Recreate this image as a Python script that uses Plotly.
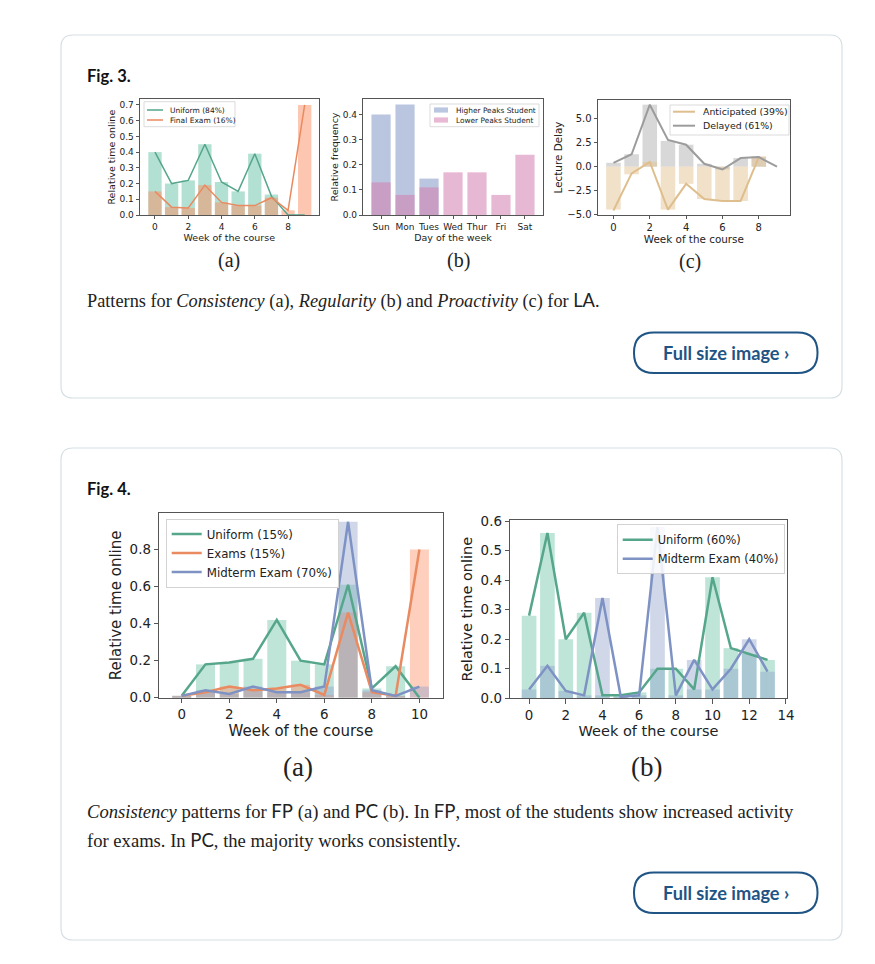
import plotly.graph_objects as go

# The page places the figure 8 px from the window's top-left corner (body margin),
# so all positions below are given in window pixels and shifted by OFF.
WIN_W, WIN_H = 875, 964
OFF = 8
W, H = WIN_W - OFF, WIN_H - OFF

# ---------------- data ----------------
# Fig. 3 (a) LA consistency
la_weeks = list(range(10))
la_uniform = [0.40, 0.20, 0.22, 0.45, 0.21, 0.15, 0.39, 0.12, 0.0, 0.0]
la_uniform_bars = [0.40, 0.20, 0.22, 0.45, 0.21, 0.15, 0.39, 0.13, 0.0, 0.0]
la_final = [0.15, 0.05, 0.045, 0.19, 0.08, 0.06, 0.06, 0.11, 0.03, 0.70]

# Fig. 3 (b) LA regularity
days = ["Sun", "Mon", "Tues", "Wed", "Thur", "Fri", "Sat"]
higher_peaks = [0.40, 0.44, 0.145, 0.0, 0.0, 0.0, 0.0]
lower_peaks = [0.13, 0.08, 0.11, 0.17, 0.17, 0.08, 0.24]

# Fig. 3 (c) LA proactivity
delay_weeks = list(range(10))
delayed = [0.4, 1.3, 6.5, 2.8, 2.3, 0.3, -0.3, 0.9, 1.0, 0.0]
delay_bar_weeks = list(range(9))
delayed_bars = [0.4, 1.3, 6.5, 2.7, 2.3, 0.3, -0.3, 0.9, 1.0]
anticipated = [-4.6, -0.7, 0.5, -4.5, -1.8, -3.4, -3.6, -3.6, 1.0]
anticipated_bars = [-4.5, -0.8, 0.5, -4.5, -1.8, -3.4, -3.6, -3.6, 1.1]

# Fig. 4 (a) FP consistency
fp_weeks = list(range(11))
fp_uniform = [0.01, 0.18, 0.19, 0.21, 0.42, 0.20, 0.18, 0.61, 0.05, 0.17, 0.0]
fp_exams = [0.01, 0.03, 0.06, 0.04, 0.05, 0.07, 0.015, 0.46, 0.03, 0.01, 0.80]
fp_midterm = [0.01, 0.04, 0.02, 0.06, 0.03, 0.03, 0.06, 0.95, 0.04, 0.01, 0.06]

# Fig. 4 (b) PC consistency
pc_weeks = list(range(14))
pc_uniform = [0.28, 0.56, 0.20, 0.29, 0.01, 0.01, 0.02, 0.10, 0.10, 0.03, 0.41, 0.17, 0.15, 0.13]
pc_midterm = [0.03, 0.11, 0.025, 0.01, 0.34, 0.005, 0.01, 0.58, 0.01, 0.13, 0.03, 0.10, 0.20, 0.09]

# labels
la_legend = ["Uniform (84%)", "Final Exam (16%)"]
reg_legend = ["Higher Peaks Student", "Lower Peaks Student"]
pro_legend = ["Anticipated (39%)", "Delayed (61%)"]
fp_legend = ["Uniform (15%)", "Exams (15%)", "Midterm Exam (70%)"]
pc_legend = ["Uniform (60%)", "Midterm Exam (40%)"]

# ---------------- style ----------------
GREEN, ORANGE, BLUE, PINK, TAN, GREY = "#66c2a5", "#fc8d62", "#8da0cb", "#d47fb0", "#e5c494", "#b3b3b3"
GREEN_L, ORANGE_L, BLUE_L, TAN_L, GREY_L = "#55a68a", "#ea8a60", "#7e92c4", "#dfbe8e", "#9c9c9c"
AXFONT = "DejaVu Sans"
SERIF = "Liberation Serif"
SANS = "Lato"
INK = "#222222"
FRAME = "#555555"

fig = go.Figure()


def bar(x, y, color, op, ax):
    fig.add_trace(go.Bar(x=x, y=y, width=0.8, marker=dict(color=color, line=dict(width=0)),
                         opacity=op, showlegend=False, hoverinfo="skip",
                         xaxis="x" + ax, yaxis="y" + ax))


def line(x, y, color, wdt, ax, name=None, legend=None):
    fig.add_trace(go.Scatter(x=x, y=y, mode="lines", line=dict(color=color, width=wdt),
                             name=name, showlegend=legend is not None,
                             legend=legend, xaxis="x" + ax, yaxis="y" + ax))


# Fig 3a
bar(la_weeks, la_uniform_bars, GREEN, 0.5, "")
bar(la_weeks, la_final, ORANGE, 0.5, "")
line(la_weeks, la_uniform, GREEN_L, 1.5, "")
line(la_weeks, la_final, ORANGE_L, 1.5, "")
# Fig 3b
bar(days, higher_peaks, BLUE, 0.6, "2")
bar(days, lower_peaks, PINK, 0.55, "2")
# Fig 3c
bar(delay_bar_weeks, delayed_bars, GREY, 0.5, "3")
bar(delay_bar_weeks, anticipated_bars, TAN, 0.5, "3")
line(delay_bar_weeks, anticipated, TAN_L, 2, "3")
line(delay_weeks, delayed, GREY_L, 2, "3")
# Fig 4a
bar(fp_weeks, fp_uniform, GREEN, 0.42, "4")
bar(fp_weeks, fp_exams, ORANGE, 0.42, "4")
bar(fp_weeks, fp_midterm, BLUE, 0.42, "4")
line(fp_weeks, fp_uniform, GREEN_L, 2.5, "4", fp_legend[0], "legend")
line(fp_weeks, fp_exams, ORANGE_L, 2.5, "4", fp_legend[1], "legend")
line(fp_weeks, fp_midterm, BLUE_L, 2.5, "4", fp_legend[2], "legend")
# Fig 4b
bar(pc_weeks, pc_uniform, GREEN, 0.42, "5")
bar(pc_weeks, pc_midterm, BLUE, 0.42, "5")
line(pc_weeks, pc_uniform, GREEN_L, 2.5, "5", pc_legend[0], "legend2")
line(pc_weeks, pc_midterm, BLUE_L, 2.5, "5", pc_legend[1], "legend2")
# page layer (window pixel coordinates)
fig.add_trace(go.Scatter(x=[], y=[], xaxis="x6", yaxis="y6", showlegend=False, hoverinfo="skip"))


def fx(p):
    return (p - OFF) / W


def fy(p):
    return 1 - (p - OFF) / H


# panel boxes in window pixels: left, top, right, bottom
panels = {
    "": (140, 99.3, 318.5, 215),
    "2": (363.3, 99, 542.7, 215),
    "3": (598, 100, 789.7, 215),
    "4": (159, 513, 442.7, 697.7),
    "5": (510, 520, 787, 698.3),
}


def axes(key, xr, yr, xtitle, ytitle, tfont, lfont, tlen, xstand, ystand,
         xtickvals=None, ytickvals=None, yticktext=None, yfmt=".1f"):
    l, t, r, b = panels[key]
    common = dict(showline=True, mirror=True, linecolor=FRAME, linewidth=0.8,
                  ticks="outside", ticklen=tlen, tickwidth=0.8, tickcolor=FRAME,
                  showgrid=False, zeroline=False, automargin=False,
                  tickfont=dict(family=AXFONT, size=tfont, color=INK))
    xa = dict(common, domain=[fx(l), fx(r)], range=xr, anchor="y" + key,
              title=dict(text=xtitle, font=dict(family=AXFONT, size=lfont, color=INK), standoff=xstand))
    if xtickvals is not None:
        xa["tickvals"] = xtickvals
    ya = dict(common, domain=[fy(b), fy(t)], range=yr, anchor="x" + key,
              tickvals=ytickvals, tickformat=yfmt,
              title=dict(text=ytitle, font=dict(family=AXFONT, size=lfont, color=INK), standoff=ystand))
    if yticktext is not None:
        ya["ticktext"] = yticktext
    fig.update_layout({"xaxis" + key: xa, "yaxis" + key: ya})


axes("", [-0.9, 9.83], [0, 0.736], "Week of the course", "Relative time online", 9, 9.5, 3.5, 1, 2,
     [0, 2, 4, 6, 8], [0, 0.1, 0.2, 0.3, 0.4, 0.5, 0.6, 0.7])
axes("2", [-0.74, 6.74], [0, 0.462], "Day of the week", "Relative frequency", 9, 9.5, 3.5, 1, 2,
     None, [0, 0.1, 0.2, 0.3, 0.4])
axes("3", [-0.85, 9.7], [-5.07, 6.99], "Week of the course", "Lecture Delay", 10, 10.4, 3.5, 1, 2,
     [0, 2, 4, 6, 8], [-5, -2.5, 0, 2.5, 5], ["\u22125.0", "\u22122.5", "0.0", "2.5", "5.0"])
axes("4", [-0.955, 10.98], [0, 0.9975], "Week of the course", "Relative time online", 13.4, 15, 4.5, 3, 4,
     [0, 2, 4, 6, 8, 10], [0, 0.2, 0.4, 0.6, 0.8])
axes("5", [-1.04, 14.06], [0, 0.604], "Week of the course", "Relative time online", 13.4, 14.5, 4.5, 3, 4,
     [0, 2, 4, 6, 8, 10, 12, 14], [0, 0.1, 0.2, 0.3, 0.4, 0.5, 0.6])

fig.update_layout(
    xaxis6=dict(domain=[0, 1], range=[OFF, WIN_W], visible=False, anchor="y6", fixedrange=True,
                automargin=False),
    yaxis6=dict(domain=[0, 1], range=[WIN_H, OFF], visible=False, anchor="x6", fixedrange=True,
                automargin=False),
)

shapes = []
annotations = []


def px_text(x, y, text, size, family, color=INK, xanchor="left"):
    annotations.append(dict(x=x, y=y, xref="x6", yref="y6", text=text, showarrow=False,
                            xanchor=xanchor, yanchor="middle",
                            font=dict(size=size, family=family, color=color)))


def rrect(x0, y0, x1, y1, r):
    return (f"M{x0 + r},{y0} L{x1 - r},{y0} Q{x1},{y0} {x1},{y0 + r} L{x1},{y1 - r} "
            f"Q{x1},{y1} {x1 - r},{y1} L{x0 + r},{y1} Q{x0},{y1} {x0},{y1 - r} "
            f"L{x0},{y0 + r} Q{x0},{y0} {x0 + r},{y0} Z")


# cards
for (x0, y0, x1, y1) in [(61, 35, 842, 398), (61, 448, 842, 940)]:
    shapes.append(dict(type="path", xref="x6", yref="y6", path=rrect(x0, y0, x1, y1, 12),
                       line=dict(color="#d6dfe4", width=1.2), layer="above"))
# buttons
for (x0, y0, x1, y1) in [(634, 332.5, 817.5, 373), (634, 872.5, 817.5, 913)]:
    shapes.append(dict(type="path", xref="x6", yref="y6", path=rrect(x0, y0, x1, y1, 20),
                       line=dict(color="#1f5484", width=2), layer="above"))
    px_text((x0 + x1) / 2, (y0 + y1) / 2, "<b>Full size image \u203a</b>", 18.2, SANS, "#1f5484", "center")


# small matplotlib-style legends for Fig. 3
def mini_legend(box, rows, sw_x, text_x, entries, colors, size, kind, lw=1.5):
    x0, y0, x1, y1 = box
    shapes.append(dict(type="rect", xref="x6", yref="y6", x0=x0, y0=y0, x1=x1, y1=y1,
                       line=dict(color="#d2d2d2", width=0.8), fillcolor="rgba(255,255,255,0.85)",
                       layer="above"))
    for yy, name, col in zip(rows, entries, colors):
        if kind == "line":
            shapes.append(dict(type="line", xref="x6", yref="y6", x0=sw_x[0], x1=sw_x[1], y0=yy, y1=yy,
                               line=dict(color=col, width=lw), layer="above"))
        else:
            shapes.append(dict(type="rect", xref="x6", yref="y6", x0=sw_x[0], x1=sw_x[1],
                               y0=yy - 2.6, y1=yy + 2.6, line=dict(width=0), fillcolor=col,
                               layer="above"))
        px_text(text_x, yy, name, size, AXFONT)


mini_legend((144, 101.7, 235, 126.7), [110, 120], (147, 163), 168, la_legend,
            [GREEN_L, ORANGE_L], 7.5, "line")
mini_legend((430, 104, 539, 126.7), [110, 120], (434, 448), 454, reg_legend,
            ["rgba(141,160,203,0.6)", "rgba(212,127,176,0.55)"], 7.4, "patch")
mini_legend((670, 105, 789, 135), [111.7, 125.7], (673, 695), 700.7, pro_legend,
            [TAN_L, GREY_L], 9.4, "line", 2)

# page texts
px_text(85, 75.5, "<b>Fig. 3.</b>", 16.5, SANS, "#111111")
px_text(85, 488.5, "<b>Fig. 4.</b>", 16.5, SANS, "#111111")
for x, y, t, s in [(229, 260, "(a)", 20), (458, 260, "(b)", 20), (690, 261, "(c)", 20),
                   (298, 767, "(a)", 27), (646, 767, "(b)", 27)]:
    px_text(x, y, t, s, SERIF, INK, "center")

sans_span = "<span style='font-family:Lato'>{}</span>"
px_text(85, 300, "Patterns for <i>Consistency</i> (a), <i>Regularity</i> (b) and <i>Proactivity</i> (c) for "
        + sans_span.format("LA") + ".", 18.3, SERIF)
px_text(85, 811, "<i>Consistency</i> patterns for " + sans_span.format("FP") + " (a) and "
        + sans_span.format("PC") + " (b). In " + sans_span.format("FP")
        + ", most of the students show increased activity", 18.6, SERIF)
px_text(85, 840, "for exams. In " + sans_span.format("PC") + ", the majority works consistently.", 18.6, SERIF)

legend_common = dict(xanchor="left", yanchor="top", bgcolor="rgba(255,255,255,0.85)",
                     bordercolor="#d2d2d2", borderwidth=1, tracegroupgap=0, itemwidth=30)
fig.update_layout(
    width=W, height=H, margin=dict(l=0, r=0, t=0, b=0, autoexpand=False),
    paper_bgcolor="white", plot_bgcolor="rgba(0,0,0,0)",
    barmode="overlay",
    shapes=shapes, annotations=annotations,
    legend=dict(legend_common, x=fx(165.7), y=fy(518.5),
                font=dict(family=AXFONT, size=11.8, color=INK)),
    legend2=dict(legend_common, x=fx(616.7), y=fy(524.3),
                 font=dict(family=AXFONT, size=11.4, color=INK)),
    showlegend=True,
)

fig.write_html("out.html")
